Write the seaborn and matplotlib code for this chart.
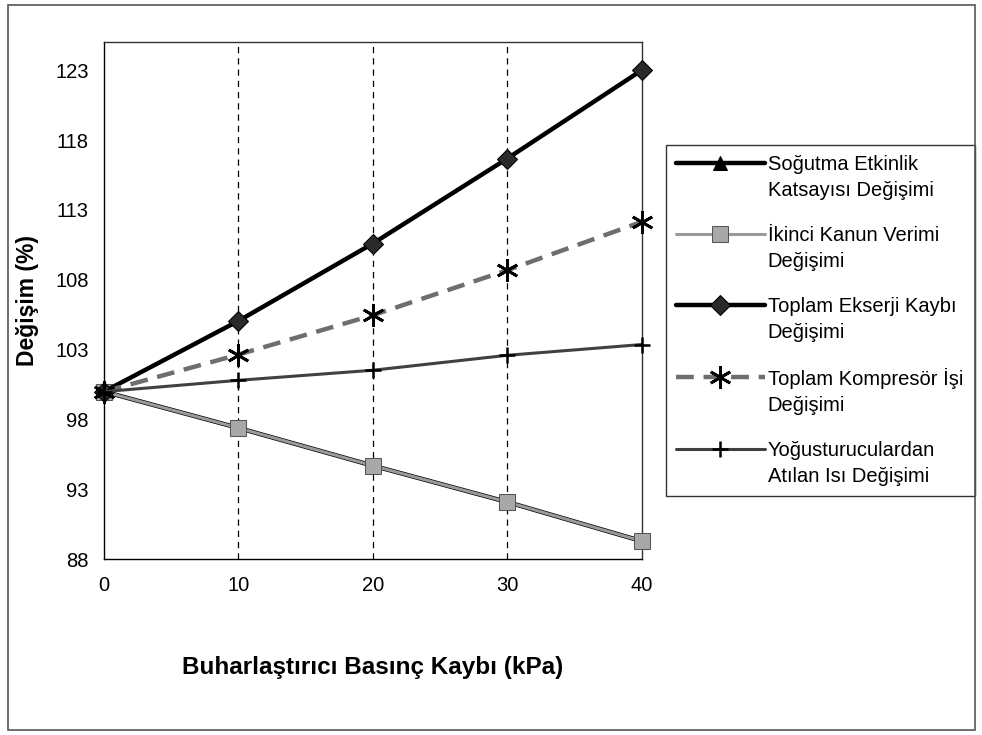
import matplotlib
matplotlib.use("Agg")
import matplotlib.pyplot as plt
import seaborn as sns
import pandas as pd
from matplotlib.patches import Rectangle

sns.set_style("white")
plt.rcParams['font.family'] = ['Liberation Sans', 'DejaVu Sans']
plt.rcParams['text.color'] = 'black'
plt.rcParams['axes.labelcolor'] = 'black'
plt.rcParams['xtick.color'] = 'black'
plt.rcParams['ytick.color'] = 'black'

pressure_loss = [0, 10, 20, 30, 40]
cop_change = [100, 97.4, 94.7, 92.1, 89.3]
second_law_change = [100, 97.4, 94.7, 92.1, 89.3]
exergy_loss_change = [100, 105.06, 110.6, 116.68, 123.0]
compressor_work_change = [100, 102.65, 105.47, 108.69, 112.15]
condenser_heat_change = [100, 100.81, 101.53, 102.6, 103.37]

labels = [
    "Soğutma Etkinlik\nKatsayısı Değişimi",
    "İkinci Kanun Verimi\nDeğişimi",
    "Toplam Ekserji Kaybı\nDeğişimi",
    "Toplam Kompresör İşi\nDeğişimi",
    "Yoğusturuculardan\nAtılan Isı Değişimi",
]
yticks = [88, 93, 98, 103, 108, 113, 118, 123]
xticks = [0, 10, 20, 30, 40]

fig = plt.figure(figsize=(9.82, 7.35), dpi=100)
ax = fig.add_axes([104/982, 1-559.3/735, (641.7-104)/982, (559.3-42.3)/735])

for xv in [10, 20, 30]:
    ax.axvline(xv, color='black', linestyle=(0, (5, 4)), lw=0.9, zorder=1)

series = [
    (cop_change, dict(color='black', lw=3.2, marker='^', markersize=10, markerfacecolor='black', markeredgecolor='black')),
    (second_law_change, dict(color='#9a9a9a', lw=2.2, marker='s', markersize=11, markerfacecolor='#a8a8a8', markeredgecolor='#555555')),
    (exergy_loss_change, dict(color='black', lw=3.2, marker='D', markersize=10, markerfacecolor='#2a2a2a', markeredgecolor='black')),
    (compressor_work_change, dict(color='#6e6e6e', lw=3.2, linestyle=(0, (4, 2.2)), marker=(6, 2, 0), markersize=16, markeredgewidth=2, markeredgecolor='black')),
    (condenser_heat_change, dict(color='#404040', lw=2.2, marker='+', markersize=12, markeredgewidth=1.8, markeredgecolor='black')),
]

for (vals, style), lab in zip(series, labels):
    df = pd.DataFrame({'x': pressure_loss, 'y': vals})
    sns.lineplot(data=df, x='x', y='y', ax=ax, label=lab, zorder=3, clip_on=False, **style)

ax.set_xlim(0, 40)
ax.set_ylim(88, 125)
ax.set_xticks(xticks)
ax.set_yticks(yticks)
ax.tick_params(axis='y', direction='out', length=5, width=1, labelsize=14.5, pad=6)
ax.tick_params(axis='x', direction='inout', length=8, width=1, labelsize=14.5, pad=8)
for s in ax.spines.values():
    s.set_visible(True)
    s.set_color('#333333')
    s.set_linewidth(1.0)
ax.spines['left'].set_color('black')
ax.spines['bottom'].set_color('black')

ax.set_xlabel("Buharlaştırıcı Basınç Kaybı (kPa)", fontsize=17.5, fontweight='bold', labelpad=44)
ax.set_ylabel("Değişim (%)", fontsize=16.5, fontweight='bold', labelpad=12)

fs = 14.5
leg = ax.legend(loc='upper left', bbox_to_anchor=(666/982, 1-497/735, (975-666)/982, (497-145)/735),
                bbox_transform=fig.transFigure, mode='expand', frameon=True, fancybox=False,
                fontsize=fs, handlelength=4.4, labelspacing=1.3, borderpad=0.5,
                handletextpad=0.15, borderaxespad=0)
leg.get_frame().set_edgecolor('black')
leg.get_frame().set_linewidth(1.0)
for t in leg.get_texts():
    t.set_linespacing(1.45)
for ln in leg.get_lines():
    ln.set_ydata(ln.get_ydata() + 0.5 * 1.45 * fs)

fig.patches.append(Rectangle((8/982, 1-730/735), (975-8)/982, (730-5)/735, transform=fig.transFigure,
                             fill=False, edgecolor='#555555', lw=1.2))

fig.savefig("out.png", dpi=100)
